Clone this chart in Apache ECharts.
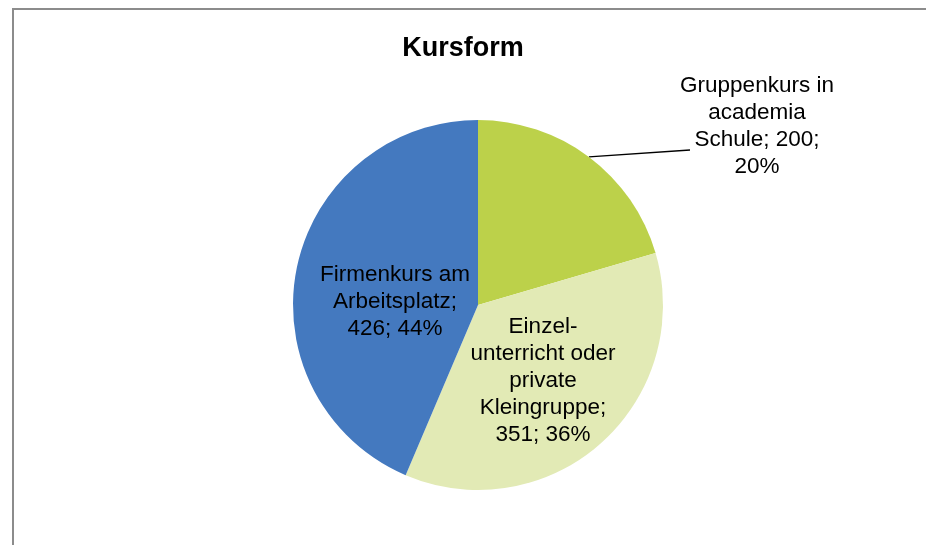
<!DOCTYPE html>
<html><head><meta charset="utf-8">
<script src="https://cdn.jsdelivr.net/npm/echarts@6/dist/echarts.min.js"></script>
<style>html,body{margin:0;padding:0;background:#fff}#c{width:926px;height:545px}</style>
</head><body><div id="c"></div>
<script>
const categories = ['Gruppenkurs in academia Schule', 'Einzelunterricht oder private Kleingruppe', 'Firmenkurs am Arbeitsplatz'];
const labelTemplates = [
  'Gruppenkurs in\nacademia\nSchule; {v};\n{p}%',
  'Einzel-\nunterricht oder\nprivate\nKleingruppe;\n{v}; {p}%',
  'Firmenkurs am\nArbeitsplatz;\n{v}; {p}%'
];
const values = [200, 351, 426];
const colors = ['#bcd14a', '#e2eab5', '#4479bf'];

const total = values.reduce((a, b) => a + b, 0);
const chart = echarts.init(document.getElementById('c'));
const font = 'Liberation Sans, Arial, sans-serif';
const cx = 478, cy = 305, R = 185;
const labelPos = [
  { x: 757, y: 126 },
  { x: 543, y: 381 },
  { x: 395, y: 302 }
];
function edgePoint(i) {
  let before = 0;
  for (let k = 0; k < i; k++) before += values[k];
  const mid = (before + values[i] / 2) / total * 2 * Math.PI;
  return [cx + R * Math.sin(mid), cy - R * Math.cos(mid)];
}
chart.setOption({
  animation: false,
  title: {
    text: 'Kursform', left: 'center', top: 30,
    textStyle: { fontFamily: font, fontSize: 27, fontWeight: 'bold', color: '#000' }
  },
  graphic: [{
    type: 'rect', shape: { x: 13, y: 9, width: 940, height: 560 },
    style: { fill: 'none', stroke: '#8c8c8c', lineWidth: 2 }, silent: true
  }],
  series: [{
    type: 'pie',
    center: [cx, cy],
    radius: [0, R],
    startAngle: 90,
    clockwise: true,
    data: categories.map((c, i) => ({
      name: c, value: values[i],
      itemStyle: { color: colors[i] },
      label: { position: i === 0 ? 'outside' : 'inside' },
      labelLine: { show: i === 0 }
    })),
    label: {
      show: true,
      fontFamily: font, fontSize: 22.5, color: '#000', lineHeight: 27,
      align: 'center',
      formatter: p => labelTemplates[p.dataIndex].replace('{v}', p.value).replace('{p}', Math.round(p.value / total * 100))
    },
    labelLine: { lineStyle: { color: '#000', width: 1.3 }, length: 20, length2: 20 },
    labelLayout: p => {
      const lp = labelPos[p.dataIndex];
      const out = { x: lp.x, y: lp.y, align: 'center', verticalAlign: 'middle' };
      if (p.dataIndex === 0) {
        const e = edgePoint(0);
        const end = [lp.x - 67, lp.y + 24];
        out.labelLinePoints = [e, end, end];
      }
      return out;
    }
  }]
});
</script></body></html>
